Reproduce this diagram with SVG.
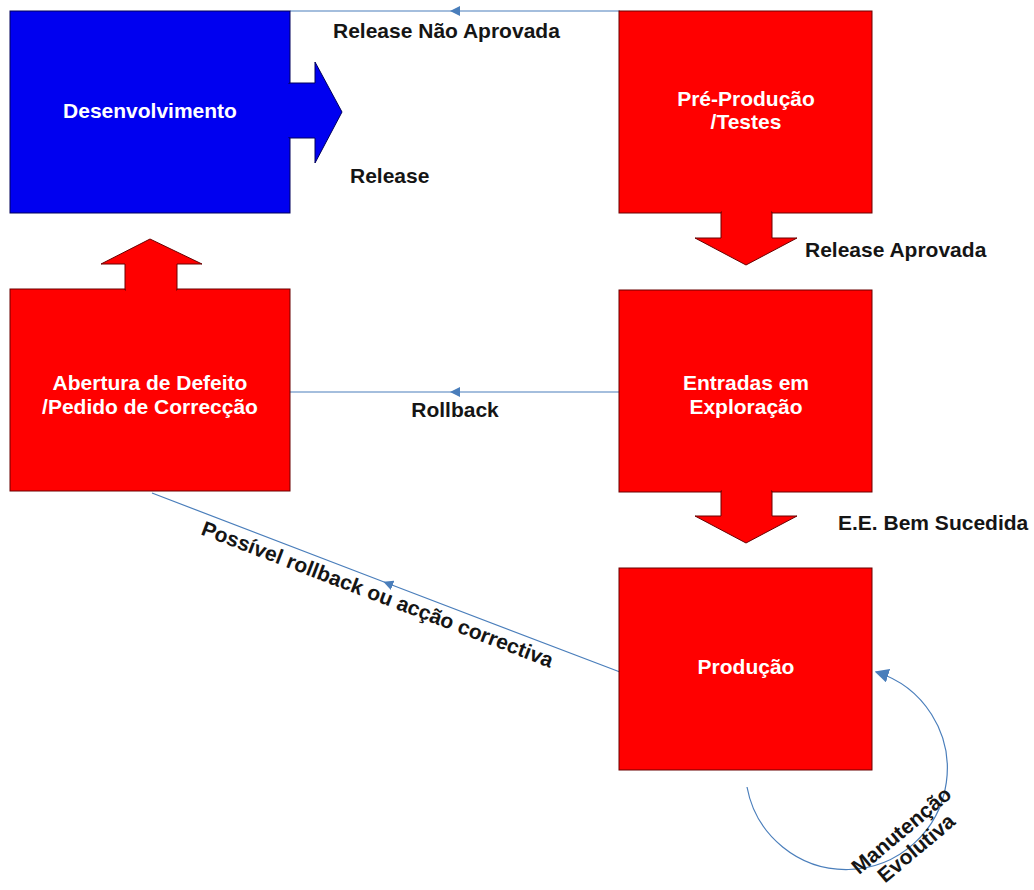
<svg xmlns="http://www.w3.org/2000/svg" width="1034" height="890" viewBox="0 0 1034 890">
  <defs>
    <marker id="tri" viewBox="0 0 10 10" refX="5" refY="5" markerWidth="10" markerHeight="10" markerUnits="userSpaceOnUse" orient="auto">
      <path d="M0,0 L10,5 L0,10 z" fill="#4A7EBB"/>
    </marker>
    <marker id="triEnd" viewBox="0 0 10 10" refX="9" refY="5" markerWidth="14" markerHeight="14" markerUnits="userSpaceOnUse" orient="auto">
      <path d="M0,0 L10,5 L0,10 z" fill="#4A7EBB"/>
    </marker>
  </defs>
  <style>
    .red { fill: #FF0000; stroke: #6a0000; stroke-width: 1; }
    .blue { fill: #0000F0; stroke: #00005a; stroke-width: 1; }
    .nt { font-family: "Liberation Sans", Arial, sans-serif; font-weight: bold; font-size: 21px; fill: #FFFFFF; text-anchor: middle; }
    .lb { font-family: "Liberation Sans", Arial, sans-serif; font-weight: bold; font-size: 21px; fill: #151515; }
    .conn { fill: none; stroke: #4A7EBB; stroke-width: 1.2; }
  </style>
  <rect width="1034" height="890" fill="#FFFFFF"/>

  <g id="connectors">
    <path class="conn" d="M620,11 L455,11 L290,11" marker-mid="url(#tri)"/>
    <path class="conn" d="M620,392 L455,392 L290,392" marker-mid="url(#tri)"/>
    <path class="conn" d="M620,672 L388,583.5 L152,493" marker-mid="url(#tri)"/>
    <path class="conn" d="M747,787 A101,101 0 1 0 876,672" marker-end="url(#triEnd)"/>
  </g>

  <g id="desenvolvimento">
    <rect class="blue" x="10" y="11" width="280" height="202"/>
    <polygon class="blue" points="289,83 315,83 315,62 342,112 315,163 315,138 289,138"/>
    <rect x="285" y="84" width="6" height="53" fill="#0000F0"/>
    <text class="nt" x="150" y="118">Desenvolvimento</text>
  </g>

  <g id="pre-producao">
    <rect class="red" x="619" y="11" width="253" height="202"/>
    <polygon class="red" points="721,212 772,212 772,238 797,238 746,265 695,238 721,238"/>
    <rect x="722" y="208" width="49" height="6" fill="#FF0000"/>
    <text class="nt" x="746" y="106">Pré-Produção</text>
    <text class="nt" x="746" y="129">/Testes</text>
  </g>

  <g id="abertura">
    <rect class="red" x="10" y="289" width="280" height="202"/>
    <polygon class="red" points="125,290 177,290 177,264 202,264 150,239 101,264 125,264"/>
    <rect x="126" y="286" width="50" height="6" fill="#FF0000"/>
    <text class="nt" x="150" y="390">Abertura de Defeito</text>
    <text class="nt" x="150" y="414">/Pedido de Correcção</text>
  </g>

  <g id="entradas">
    <rect class="red" x="619" y="290" width="253" height="202"/>
    <polygon class="red" points="721,491 772,491 772,516 797,516 746,543 695,516 721,516"/>
    <rect x="722" y="487" width="49" height="6" fill="#FF0000"/>
    <text class="nt" x="746" y="390">Entradas em</text>
    <text class="nt" x="746" y="414">Exploração</text>
  </g>

  <g id="producao">
    <rect class="red" x="619" y="568" width="253" height="202"/>
    <text class="nt" x="746" y="674">Produção</text>
  </g>

  <g id="labels">
    <text class="lb" x="333" y="38">Release Não Aprovada</text>
    <text class="lb" x="350" y="183">Release</text>
    <text class="lb" x="805" y="257">Release Aprovada</text>
    <text class="lb" x="455" y="417" text-anchor="middle">Rollback</text>
    <text class="lb" x="838" y="530">E.E. Bem Sucedida</text>
    <text class="lb" text-anchor="middle" transform="translate(375,601) rotate(20.9)">Possível rollback ou acção correctiva</text>
    <g transform="translate(906,836) rotate(-40)">
      <text class="lb" x="0" y="0" text-anchor="middle" font-size="20">Manutenção</text>
      <text class="lb" x="0" y="23" text-anchor="middle" font-size="20">Evolutiva</text>
    </g>
  </g>
</svg>
